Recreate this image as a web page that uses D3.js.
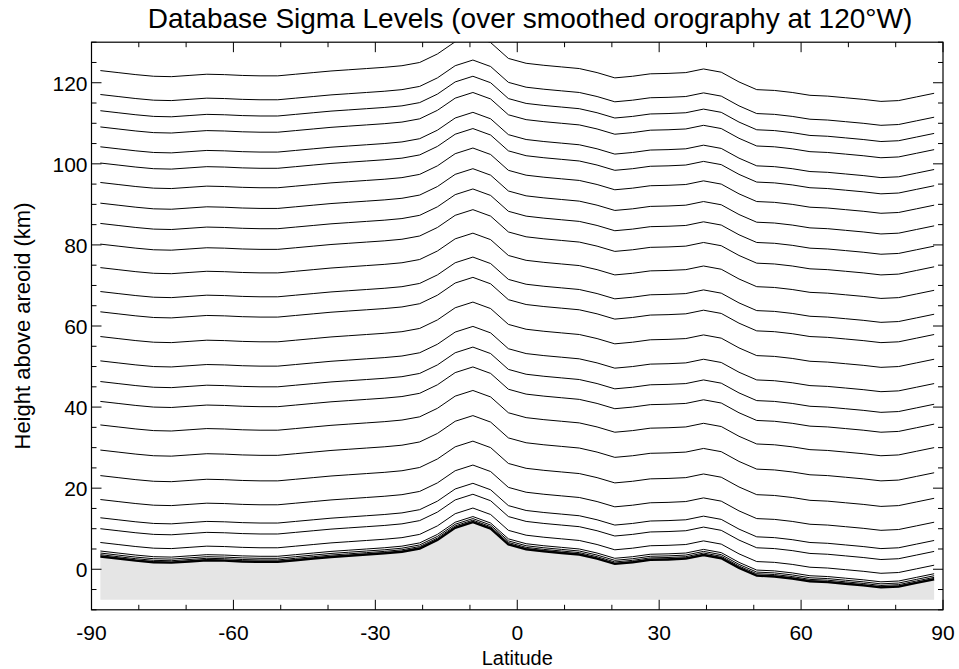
<!DOCTYPE html>
<html><head><meta charset="utf-8">
<script src="https://cdn.jsdelivr.net/npm/d3@7"></script>
<style>body{margin:0;background:#fff;}svg{display:block;font-family:"Liberation Sans",Arial,sans-serif;}</style>
</head><body>
<svg id="chart" width="959" height="669"></svg>
<script>
// Latitudes of the model grid (deg)
const latitudes = [-88.125,-84.375,-80.625,-76.875,-73.125,-69.375,-65.625,-61.875,-58.125,-54.375,-50.625,-46.875,
  -43.125,-39.375,-35.625,-31.875,-28.125,-24.375,-20.625,-16.875,-13.125,-9.375,-5.625,-1.875,
  1.875,5.625,9.375,13.125,16.875,20.625,24.375,28.125,31.875,35.625,39.375,43.125,
  46.875,50.625,54.375,58.125,61.875,65.625,69.375,73.125,76.875,80.625,84.375,88.125];
// Smoothed surface orography (km above areoid)
const surface = [3.1,2.6,2.1,1.7,1.6,1.9,2.2,2.1,1.9,1.8,1.8,2.2,
  2.6,3.0,3.3,3.6,3.9,4.3,5.1,7.2,10.2,11.6,10.0,6.1,
  4.9,4.4,4.0,3.6,2.6,1.3,1.7,2.3,2.4,2.6,3.5,2.7,
  0.3,-1.6,-1.8,-2.3,-3.0,-3.2,-3.6,-4.0,-4.5,-4.3,-3.4,-2.5];
// Height of each sigma level above the surface (km)
const levelHeights = [0.2,0.5,0.9,1.4,3.5,6.9,9.6,14.1,20.0,26.3,32.5,38.3,43.2,48.3,54.3,60.4,65.4,71.3,
  77.1,82.2,87.2,92.3,97.1,101.1,106.0,110.0,114.0,119.9];
const xTicks = [-90,-60,-30,0,30,60,90];
const yTicks = [0,20,40,60,80,100,120];
const groundBase = -7.5;

const svg = d3.select("#chart");
const x = d3.scaleLinear().domain([-90,90]).range([91.5,943]);
const y = d3.scaleLinear().domain([-10,130]).range([609.8,42.2]);
const L = 91.5, R = 943, T = 42.2, B = 609.8;

svg.append("defs").append("clipPath").attr("id","clip")
  .append("rect").attr("x",L).attr("y",T).attr("width",R-L).attr("height",B-T);
const g = svg.append("g").attr("clip-path","url(#clip)");

// ground fill
const area = d3.area().x((d,i)=>x(latitudes[i])).y0(y(groundBase)).y1(d=>y(d));
g.append("path").datum(surface).attr("d",area).attr("fill","#e5e5e5");

const line = d3.line().x(d=>x(d[0])).y(d=>y(d[1]));
levelHeights.forEach(h=>{
  const pts = latitudes.map((lat,i)=>[lat, surface[i]+h]);
  g.append("path").datum(pts).attr("d",line).attr("fill","none").attr("stroke","#000").attr("stroke-width",1);
});
g.append("path").datum(latitudes.map((lat,i)=>[lat,surface[i]])).attr("d",line)
  .attr("fill","none").attr("stroke","#000").attr("stroke-width",2.2);

// axes (ticks inward on all four sides)
const fs = 21;
const ax = svg.append("g");
const xMinor = d3.range(-90,91,10), yMinor = d3.range(-10,131,5);
xMinor.forEach(v=>{
  const len = xTicks.includes(v)?10:5;
  ax.append("line").attr("x1",x(v)).attr("x2",x(v)).attr("y1",B).attr("y2",B-len).attr("stroke","#000");
  ax.append("line").attr("x1",x(v)).attr("x2",x(v)).attr("y1",T).attr("y2",T+len).attr("stroke","#000");
});
yMinor.forEach(v=>{
  const len = yTicks.includes(v)?10:5;
  ax.append("line").attr("y1",y(v)).attr("y2",y(v)).attr("x1",L).attr("x2",L+len).attr("stroke","#000");
  ax.append("line").attr("y1",y(v)).attr("y2",y(v)).attr("x1",R).attr("x2",R-len).attr("stroke","#000");
});
ax.append("rect").attr("x",L).attr("y",T).attr("width",R-L).attr("height",B-T)
  .attr("fill","none").attr("stroke","#000").attr("stroke-width",1.2);

xTicks.forEach(v=>{
  ax.append("text").attr("x",x(v)).attr("y",B+30).attr("text-anchor","middle")
    .attr("font-size",fs).text(v);
});
yTicks.forEach(v=>{
  ax.append("text").attr("x",L-4).attr("y",y(v)+8).attr("text-anchor","end")
    .attr("font-size",fs).text(v);
});
svg.append("text").attr("x",(L+R)/2).attr("y",665).attr("text-anchor","middle")
  .attr("font-size",20).text("Latitude");
svg.append("text").attr("transform","translate(30,"+((T+B)/2)+") rotate(-90)")
  .attr("text-anchor","middle").attr("font-size",22).text("Height above areoid (km)");
svg.append("text").attr("x",530).attr("y",28).attr("text-anchor","middle")
  .attr("font-size",28).text("Database Sigma Levels (over smoothed orography at 120°W)");
</script>
</body></html>
